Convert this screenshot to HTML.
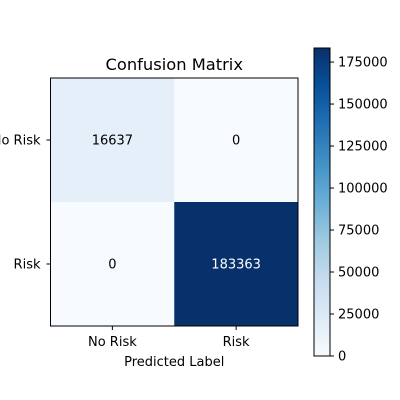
<!DOCTYPE html>
<html><head><meta charset="utf-8"><style>
body{margin:0;background:#fff;}
svg{display:block;font-family:"DejaVu Sans","Liberation Sans",sans-serif;}
</style></head><body>
<svg id="c" width="400" height="400" xmlns="http://www.w3.org/2000/svg">
<defs><linearGradient id="blues" x1="0" y1="1" x2="0" y2="0">
<stop offset="0" stop-color="#f7fbff"/><stop offset="0.125" stop-color="#deebf7"/><stop offset="0.25" stop-color="#c6dbef"/><stop offset="0.375" stop-color="#9ecae1"/><stop offset="0.5" stop-color="#6baed6"/><stop offset="0.625" stop-color="#4292c6"/><stop offset="0.75" stop-color="#2171b5"/><stop offset="0.875" stop-color="#08519c"/><stop offset="1" stop-color="#08306b"/>
</linearGradient></defs>
</svg>
<script>
const rowLabels=["No Risk","Risk"];
const colLabels=["No Risk","Risk"];
const row0=[16637,0];
const row1=[0,183363];
const cbTicks=[0,25000,50000,75000,100000,125000,150000,175000];
const matrix=[row0,row1];
const svg=document.getElementById('c');
const NS="http://www.w3.org/2000/svg";
function mk(t,a,txt){const e=document.createElementNS(NS,t);for(const k in a)e.setAttribute(k,a[k]);if(txt!==undefined)e.textContent=txt;svg.appendChild(e);return e;}
const stops=[[247,251,255],[222,235,247],[198,219,239],[158,202,225],[107,174,214],[66,146,198],[33,113,181],[8,81,156],[8,48,107]];
function cmap(t){t=Math.max(0,Math.min(1,t));const p=t*8,i=Math.min(7,Math.floor(p)),f=p-i;const a=stops[i],b=stops[i+1];return `rgb(${a.map((v,k)=>Math.round(v+(b[k]-v)*f)).join(',')})`;}
const vals=matrix.flat();const vmin=Math.min(...vals),vmax=Math.max(...vals);
const X0=50.5,Y0=78,W=247.5,H=248;const cw=W/colLabels.length,ch=H/rowLabels.length;
const FS='13';
matrix.forEach((row,r)=>row.forEach((v,c)=>{
 const el=mk('rect',{x:X0+c*cw,y:Y0+r*ch,width:cw+0.3,height:ch+0.3,fill:cmap((v-vmin)/(vmax-vmin))});
 
 
 const t=mk('text',{x:X0+(c+0.5)*cw,y:Y0+(r+0.5)*ch+4.5,'text-anchor':'middle','font-size':FS,fill:v>vmax/2?'#fff':'#000'},String(v));
 
 
}));
let e=mk('rect',{x:X0,y:Y0,width:W,height:H,fill:'none',stroke:'#000','stroke-width':1});

rowLabels.forEach((l,r)=>{const y=Y0+(r+0.5)*ch;mk('line',{x1:X0-4,x2:X0,y1:y,y2:y,stroke:'#000'});
 const t=mk('text',{x:X0-10,y:y+4.5,'text-anchor':'end','font-size':FS},l);});
colLabels.forEach((l,c)=>{const x=X0+(c+0.5)*cw;mk('line',{x1:x,x2:x,y1:Y0+H,y2:Y0+H+4,stroke:'#000'});
 const t=mk('text',{x:x,y:Y0+H+20,'text-anchor':'middle','font-size':FS},l);});
e=mk('text',{x:X0+W/2,y:366,'text-anchor':'middle','font-size':FS},'Predicted Label');
e=mk('text',{x:X0+W/2,y:70,'text-anchor':'middle','font-size':'16.3'},'Confusion Matrix');
const CX=314,CY=48,CW=16,CH=308;
e=mk('rect',{x:CX,y:CY,width:CW,height:CH,fill:'url(#blues)',stroke:'#000','stroke-width':1});
cbTicks.forEach(v=>{const y=CY+CH-(v-vmin)/(vmax-vmin)*CH;mk('line',{x1:CX+CW,x2:CX+CW+4,y1:y,y2:y,stroke:'#000'});
 const t=mk('text',{x:CX+CW+8,y:y+4.5,'font-size':FS},String(v));});
</script>
</body></html>
